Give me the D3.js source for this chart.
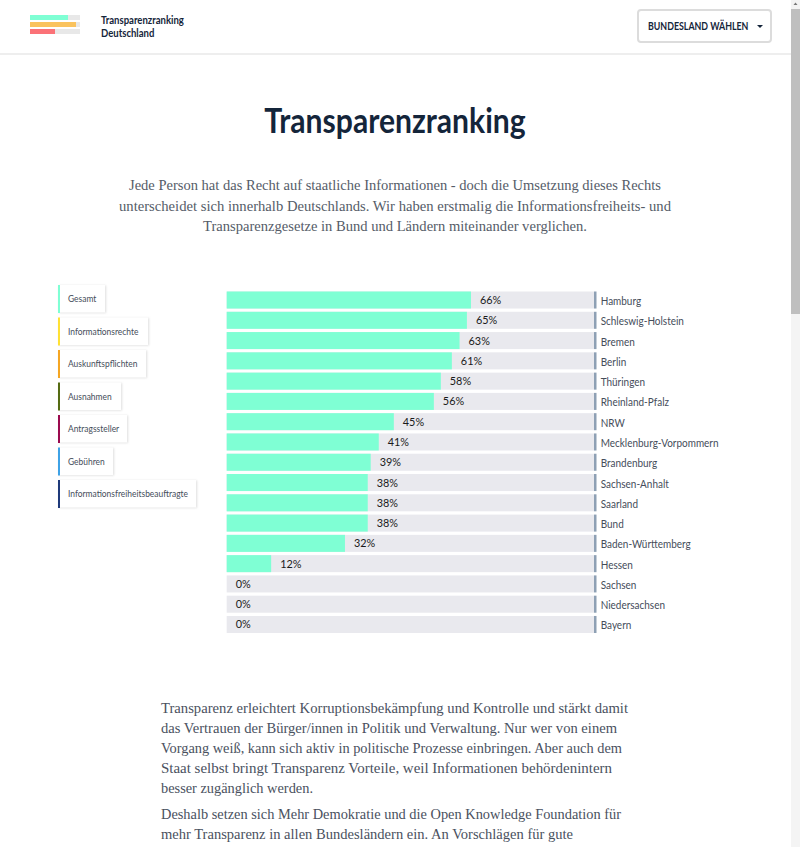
<!DOCTYPE html>
<html><head><meta charset="utf-8">
<script src="https://cdnjs.cloudflare.com/ajax/libs/d3/7.8.5/d3.min.js"></script>
<style>
html,body{margin:0;padding:0;background:#fff;overflow:hidden}
svg{display:block}
</style></head><body><svg id="c" width="800" height="847"></svg>
<script>
const states=["Hamburg","Schleswig-Holstein","Bremen","Berlin","Thüringen","Rheinland-Pfalz","NRW","Mecklenburg-Vorpommern","Brandenburg","Sachsen-Anhalt","Saarland","Bund","Baden-Württemberg","Hessen","Sachsen","Niedersachsen","Bayern"];
const barValues=[66.5,65.4,63.4,61.3,58.3,56.4,45.5,41.4,39.2,38.4,38.4,38.4,32.2,12.1,0,0,0];
const valueLabels=["66%","65%","63%","61%","58%","56%","45%","41%","39%","38%","38%","38%","32%","12%","0%","0%","0%"];
const legendItems=["Gesamt","Informationsrechte","Auskunftspflichten","Ausnahmen","Antragssteller","Gebühren","Informationsfreiheitsbeauftragte"];
const legendColors=["#7fffd4","#ffe135","#f5a623","#556b12","#9b0a4e","#3ea2e6","#1f3a7a"];
const legendWidths=[48,91,89,64,70,56,139];
const logoBars=[[76,"#7fffd4"],[92,"#fac35e"],[50,"#fb7277"]];
const introLines=["Jede Person hat das Recht auf staatliche Informationen - doch die Umsetzung dieses Rechts","unterscheidet sich innerhalb Deutschlands. Wir haben erstmalig die Informationsfreiheits- und","Transparenzgesetze in Bund und Ländern miteinander verglichen."];
const introWidths=[532,552,384];
const bodyLines=["Transparenz erleichtert Korruptionsbekämpfung und Kontrolle und stärkt damit","das Vertrauen der Bürger/innen in Politik und Verwaltung. Nur wer von einem","Vorgang weiß, kann sich aktiv in politische Prozesse einbringen. Aber auch dem","Staat selbst bringt Transparenz Vorteile, weil Informationen behördenintern","besser zugänglich werden.","Deshalb setzen sich Mehr Demokratie und die Open Knowledge Foundation für","mehr Transparenz in allen Bundesländern ein. An Vorschlägen für gute"];
const bodyBaselines=[713,733,753,773,793,819,839];
const bodyWidths=[467,456,461,451,152,460,412];

const svg=d3.select("#c");
const sans="Lato, 'Open Sans', sans-serif", serif="'Liberation Serif','DejaVu Serif',serif";
const dark="#14253a", grey="#454d5a";
// condense a text selection horizontally, to approximate the narrower webfonts of the original
function squeeze(sel,k){
  sel.each(function(){
    const w=this.getComputedTextLength();
    d3.select(this).attr("textLength",w*k).attr("lengthAdjust","spacingAndGlyphs");
  });
  return sel;
}
const defs=svg.append("defs");
defs.append("filter").attr("id","soft").attr("x","-20%").attr("y","-20%").attr("width","140%").attr("height","140%")
  .append("feGaussianBlur").attr("stdDeviation",1.2);

// header
svg.append("rect").attr("x",0).attr("y",53).attr("width",791).attr("height",2).attr("fill","#eeeeee");
const logoX=d3.scaleLinear().domain([0,100]).range([30,80]);
logoBars.forEach((d,i)=>{
  svg.append("rect").attr("x",30).attr("y",15+i*7).attr("width",50).attr("height",5).attr("fill","#e8e8e8");
  svg.append("rect").attr("x",30).attr("y",15+i*7).attr("width",logoX(d[0])-30).attr("height",5).attr("fill",d[1]);
});
squeeze(svg.selectAll(".brand").data(["Transparenzranking","Deutschland"]).join("text")
  .attr("x",101).attr("y",(d,i)=>24+i*12.5).attr("font-family",sans).attr("font-size",10.6).attr("font-weight",700).attr("fill",dark).text(d=>d),.9);
svg.append("rect").attr("x",638).attr("y",10).attr("width",133).attr("height",32).attr("rx",3).attr("fill","#fff").attr("stroke","#dcdcdc").attr("stroke-width",2);
squeeze(svg.append("text").attr("x",648).attr("y",30).attr("font-family",sans).attr("font-size",10.4).attr("font-weight",700).attr("fill",dark).text("BUNDESLAND WÄHLEN"),.85);
svg.append("path").attr("d","M757 25h6l-3 3z").attr("fill",dark);

// scrollbar
svg.append("rect").attr("x",791).attr("y",0).attr("width",9).attr("height",847).attr("fill","#f4f4f4");
svg.append("rect").attr("x",791).attr("y",9).attr("width",9).attr("height",305).attr("fill","#bfbfbf");
svg.append("path").attr("d","M793.5 5l2-2.5 2 2.5z").attr("fill","#777");

// title + intro
squeeze(svg.append("text").attr("x",395).attr("y",133).attr("text-anchor","middle").attr("font-family",sans).attr("font-size",34).attr("font-weight",700).attr("fill",dark).text("Transparenzranking"),.885);
svg.selectAll(".intro").data(introLines).join("text").attr("x",395).attr("y",(d,i)=>190+i*20.5)
  .attr("text-anchor","middle").attr("font-family",serif).attr("font-size",15.4).attr("fill","#555c68")
  .attr("textLength",(d,i)=>introWidths[i]).attr("lengthAdjust","spacingAndGlyphs").text(d=>d);

// legend
const legendStep=32.5;
legendItems.forEach((d,i)=>{
  const y=285+i*legendStep, g=svg.append("g");
  g.append("rect").attr("x",59).attr("y",y+.5).attr("width",legendWidths[i]-1).attr("height",27.5).attr("fill","#dedede").attr("filter","url(#soft)");
  g.append("rect").attr("x",58).attr("y",y).attr("width",legendWidths[i]-1).attr("height",27.5).attr("fill","#fff");
  g.append("rect").attr("x",58).attr("y",y).attr("width",2).attr("height",28).attr("fill",legendColors[i]);
  squeeze(g.append("text").attr("x",68).attr("y",y+17).attr("font-family",sans).attr("font-size",9.8).attr("fill",grey).text(d),.86);
});

// chart
const x=d3.scaleLinear().domain([0,100]).range([226.7,594]);
const y=d3.scaleBand().domain(states).range([291.5,633]).paddingInner(.16).paddingOuter(0);
const rows=svg.selectAll(".row").data(states).join("g");
rows.append("rect").attr("x",x(0)).attr("y",d=>y(d)).attr("width",x(100)-x(0)).attr("height",y.bandwidth()).attr("fill","#e9e9ee");
rows.append("rect").attr("x",x(0)).attr("y",d=>y(d)).attr("width",(d,i)=>x(barValues[i])-x(0)).attr("height",y.bandwidth()).attr("fill","#7fffd4");
rows.append("rect").attr("x",594).attr("y",d=>y(d)).attr("width",2.5).attr("height",y.bandwidth()).attr("fill","#8ea0b4");
squeeze(rows.append("text").attr("x",(d,i)=>x(barValues[i])+9).attr("y",d=>y(d)+12.5).attr("font-family",sans).attr("font-size",11.8).attr("fill","#1a1a1a").text((d,i)=>valueLabels[i]),.92);
squeeze(rows.append("text").attr("x",600.7).attr("y",d=>y(d)+13.5).attr("font-family",sans).attr("font-size",11.2).attr("fill",grey).text(d=>d),.89);

// body copy
svg.selectAll(".body").data(bodyLines).join("text").attr("x",161).attr("y",(d,i)=>bodyBaselines[i]).attr("font-family",serif).attr("font-size",15.4).attr("fill","#4a5160")
  .attr("textLength",(d,i)=>bodyWidths[i]).attr("lengthAdjust","spacingAndGlyphs").text(d=>d);
</script></body></html>
